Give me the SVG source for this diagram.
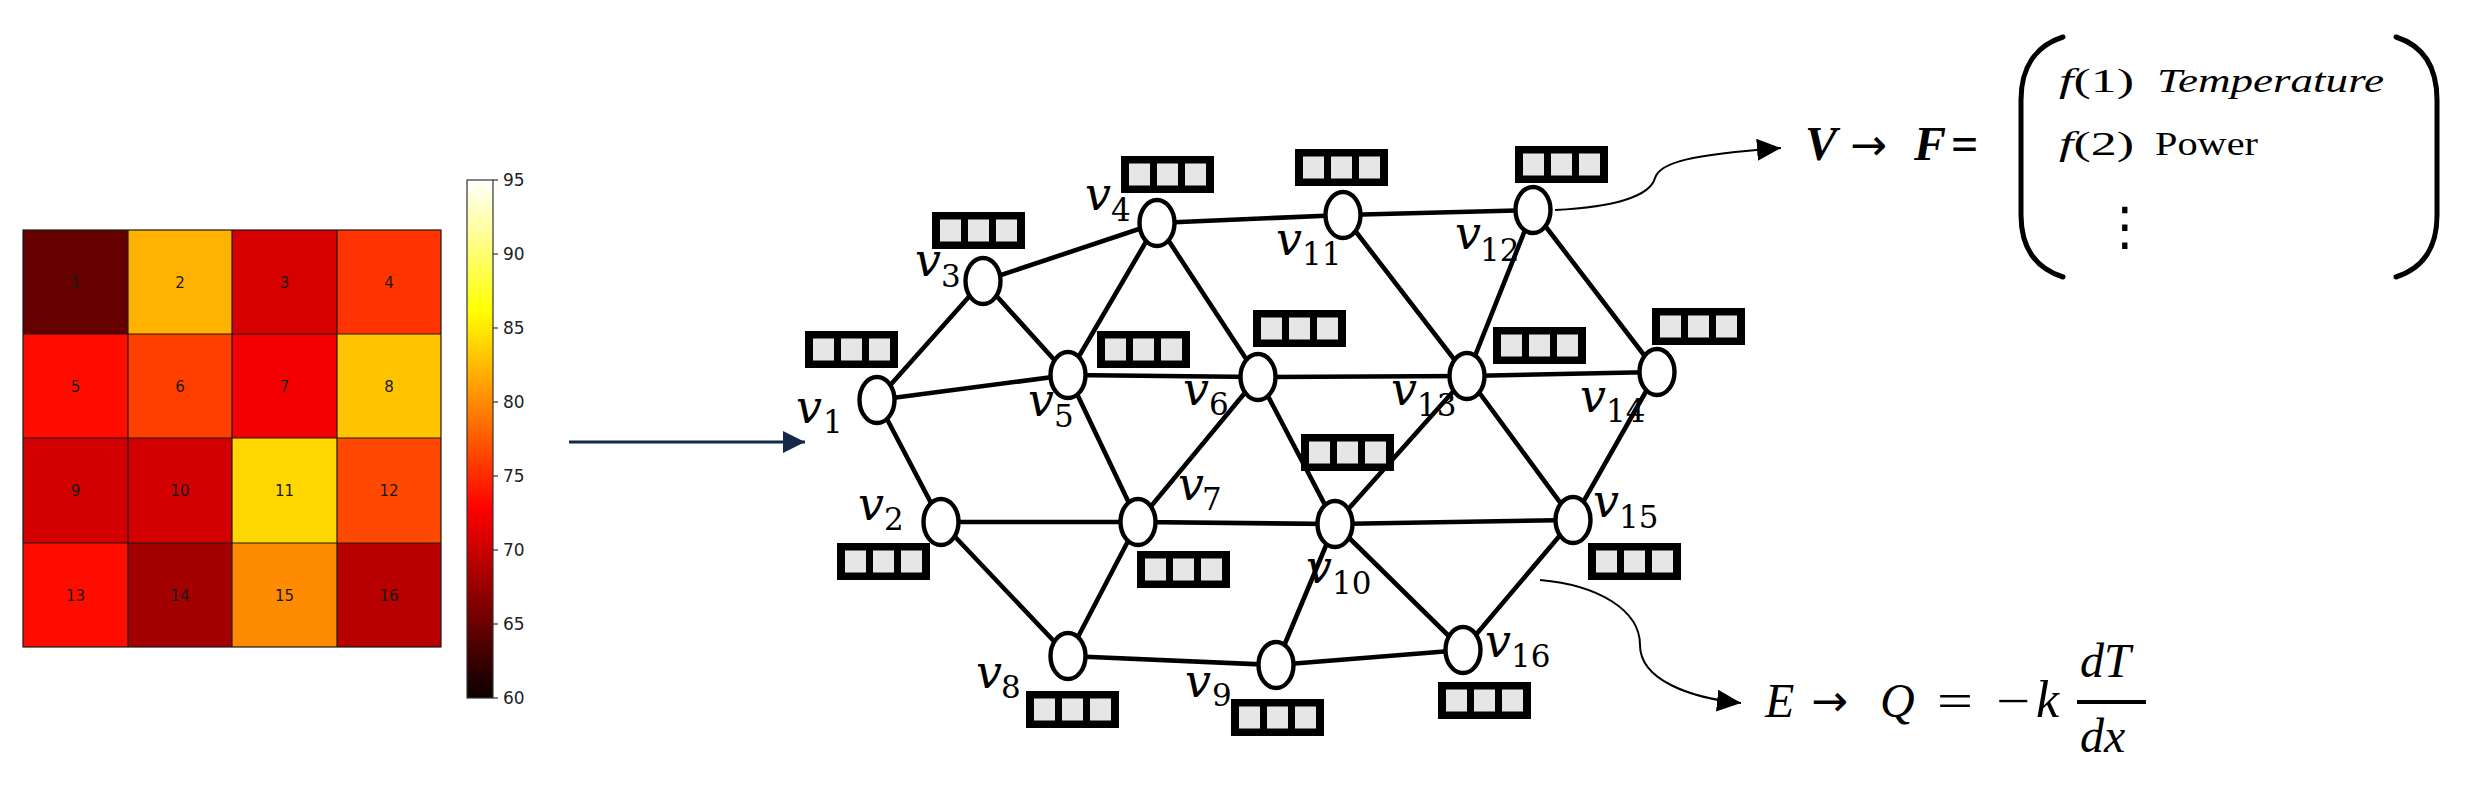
<svg xmlns="http://www.w3.org/2000/svg" xmlns:xlink="http://www.w3.org/1999/xlink" width="2466" height="797" viewBox="0 0 2466 797">
<style>
.cellnum{font-family:"DejaVu Sans",sans-serif;font-size:15px;fill:#1a1a1a;text-anchor:middle}
.cbl{font-family:"DejaVu Sans",sans-serif;font-size:17px;fill:#222}
.edge{stroke:#000;stroke-width:4.6;fill:none;stroke-linecap:round}
.node{fill:#fff;stroke:#000;stroke-width:4.4}
.vl{font-family:"DejaVu Serif",serif;font-style:italic;font-size:46px;fill:#000}
.vs{font-family:"DejaVu Serif",serif;font-style:normal;font-size:31px;fill:#000}
.math{font-family:"Liberation Serif","DejaVu Serif",serif;fill:#000}
.arr{font-family:"DejaVu Sans",sans-serif;font-size:44px;fill:#000}
.it{font-style:italic}
.curve{stroke:#000;stroke-width:2;fill:none}
.paren{stroke:#000;stroke-width:5;fill:none;stroke-linecap:round}
</style>
<defs>
<linearGradient id="hot" x1="0" y1="1" x2="0" y2="0">
<stop offset="0" stop-color="#0a0000"/>
<stop offset="0.365" stop-color="#ff0000"/>
<stop offset="0.746" stop-color="#ffff00"/>
<stop offset="1" stop-color="#ffffff"/>
</linearGradient>
<g id="fb">
<rect width="93" height="37" fill="#000"/>
<rect x="8" y="7.5" width="21" height="22" fill="#e6e6e6"/>
<rect x="36" y="7.5" width="21" height="22" fill="#e6e6e6"/>
<rect x="64" y="7.5" width="21" height="22" fill="#e6e6e6"/>
</g>
<marker id="ah" viewBox="0 0 24 22" refX="24" refY="11" markerWidth="24" markerHeight="22" markerUnits="userSpaceOnUse" orient="auto">
<path d="M0,0 L24,11 L0,22 z" fill="#000"/>
</marker>
<marker id="ahn" viewBox="0 0 22 22" refX="22" refY="11" markerWidth="22" markerHeight="22" markerUnits="userSpaceOnUse" orient="auto">
<path d="M0,0 L22,11 L0,22 z" fill="#14284a"/>
</marker>
</defs>
<rect width="2466" height="797" fill="#fff"/>

<g id="heatmap">
<rect x="23" y="230" width="105" height="104" fill="#650000"/>
<rect x="128" y="230" width="104" height="104" fill="#ffb300"/>
<rect x="232" y="230" width="105" height="104" fill="#d70000"/>
<rect x="337" y="230" width="104" height="104" fill="#ff3400"/>
<rect x="23" y="334" width="105" height="104" fill="#ff0c00"/>
<rect x="128" y="334" width="104" height="104" fill="#ff3f00"/>
<rect x="232" y="334" width="105" height="104" fill="#f50000"/>
<rect x="337" y="334" width="104" height="104" fill="#ffc400"/>
<rect x="23" y="438" width="105" height="105" fill="#d20000"/>
<rect x="128" y="438" width="104" height="105" fill="#d20000"/>
<rect x="232" y="438" width="105" height="105" fill="#ffd700"/>
<rect x="337" y="438" width="104" height="105" fill="#ff4800"/>
<rect x="23" y="543" width="105" height="104" fill="#ff0c00"/>
<rect x="128" y="543" width="104" height="104" fill="#a30000"/>
<rect x="232" y="543" width="105" height="104" fill="#ff8c00"/>
<rect x="337" y="543" width="104" height="104" fill="#b80000"/>
<g stroke="#1a1a1a" stroke-width="1.2" fill="none">
<rect x="23" y="230" width="418" height="417"/>
<line x1="128" y1="230" x2="128" y2="647"/>
<line x1="232" y1="230" x2="232" y2="647"/>
<line x1="337" y1="230" x2="337" y2="647"/>
<line x1="23" y1="334" x2="441" y2="334"/>
<line x1="23" y1="438" x2="441" y2="438"/>
<line x1="23" y1="543" x2="441" y2="543"/>
</g>
<text class="cellnum" x="75.5" y="287.5">1</text>
<text class="cellnum" x="180" y="287.5">2</text>
<text class="cellnum" x="284.5" y="287.5">3</text>
<text class="cellnum" x="389" y="287.5">4</text>
<text class="cellnum" x="75.5" y="391.5">5</text>
<text class="cellnum" x="180" y="391.5">6</text>
<text class="cellnum" x="284.5" y="391.5">7</text>
<text class="cellnum" x="389" y="391.5">8</text>
<text class="cellnum" x="75.5" y="496">9</text>
<text class="cellnum" x="180" y="496">10</text>
<text class="cellnum" x="284.5" y="496">11</text>
<text class="cellnum" x="389" y="496">12</text>
<text class="cellnum" x="75.5" y="600.5">13</text>
<text class="cellnum" x="180" y="600.5">14</text>
<text class="cellnum" x="284.5" y="600.5">15</text>
<text class="cellnum" x="389" y="600.5">16</text>
</g>

<g id="colorbar">
<rect x="467" y="180" width="26" height="518" fill="url(#hot)" stroke="#333" stroke-width="1.2"/>
<g stroke="#333" stroke-width="1.2">
<line x1="493" y1="180" x2="498" y2="180"/>
<line x1="493" y1="254" x2="498" y2="254"/>
<line x1="493" y1="328" x2="498" y2="328"/>
<line x1="493" y1="402" x2="498" y2="402"/>
<line x1="493" y1="476" x2="498" y2="476"/>
<line x1="493" y1="550" x2="498" y2="550"/>
<line x1="493" y1="624" x2="498" y2="624"/>
<line x1="493" y1="698" x2="498" y2="698"/>
</g>
<text class="cbl" x="503" y="186">95</text>
<text class="cbl" x="503" y="260">90</text>
<text class="cbl" x="503" y="334">85</text>
<text class="cbl" x="503" y="408">80</text>
<text class="cbl" x="503" y="482">75</text>
<text class="cbl" x="503" y="556">70</text>
<text class="cbl" x="503" y="630">65</text>
<text class="cbl" x="503" y="704">60</text>
</g>

<g id="connectors">
<line x1="569" y1="442" x2="805" y2="442" stroke="#14284a" stroke-width="3" marker-end="url(#ahn)"/>
<line class="edge" x1="877" y1="400" x2="983" y2="281"/>
<line class="edge" x1="877" y1="400" x2="1068" y2="375"/>
<line class="edge" x1="877" y1="400" x2="941" y2="522"/>
<line class="edge" x1="983" y1="281" x2="1157" y2="223"/>
<line class="edge" x1="983" y1="281" x2="1068" y2="375"/>
<line class="edge" x1="1157" y1="223" x2="1068" y2="375"/>
<line class="edge" x1="1157" y1="223" x2="1258" y2="377"/>
<line class="edge" x1="1157" y1="223" x2="1343" y2="215"/>
<line class="edge" x1="1068" y1="375" x2="1258" y2="377"/>
<line class="edge" x1="1068" y1="375" x2="1138" y2="522"/>
<line class="edge" x1="1258" y1="377" x2="1138" y2="522"/>
<line class="edge" x1="1258" y1="377" x2="1335" y2="524"/>
<line class="edge" x1="1258" y1="377" x2="1467" y2="376"/>
<line class="edge" x1="941" y1="522" x2="1138" y2="522"/>
<line class="edge" x1="941" y1="522" x2="1068" y2="656"/>
<line class="edge" x1="1138" y1="522" x2="1068" y2="656"/>
<line class="edge" x1="1138" y1="522" x2="1335" y2="524"/>
<line class="edge" x1="1068" y1="656" x2="1276" y2="665"/>
<line class="edge" x1="1276" y1="665" x2="1335" y2="524"/>
<line class="edge" x1="1276" y1="665" x2="1463" y2="650"/>
<line class="edge" x1="1335" y1="524" x2="1467" y2="376"/>
<line class="edge" x1="1335" y1="524" x2="1573" y2="520"/>
<line class="edge" x1="1335" y1="524" x2="1463" y2="650"/>
<line class="edge" x1="1343" y1="215" x2="1533" y2="210"/>
<line class="edge" x1="1343" y1="215" x2="1467" y2="376"/>
<line class="edge" x1="1533" y1="210" x2="1467" y2="376"/>
<line class="edge" x1="1533" y1="210" x2="1657" y2="372"/>
<line class="edge" x1="1467" y1="376" x2="1657" y2="372"/>
<line class="edge" x1="1467" y1="376" x2="1573" y2="520"/>
<line class="edge" x1="1657" y1="372" x2="1573" y2="520"/>
<line class="edge" x1="1573" y1="520" x2="1463" y2="650"/>
<path class="curve" d="M1555,210 C1615,207 1650,196 1655,178 C1660,162 1690,155 1781,148" marker-end="url(#ah)"/>
<path class="curve" d="M1540,580 C1598,585 1640,610 1640,645 C1640,680 1690,698 1741,703" marker-end="url(#ah)"/>
</g>

<g id="v1"><ellipse class="node" cx="877" cy="400" rx="17.5" ry="23"/><use xlink:href="#fb" href="#fb" x="805" y="331"/><text><tspan class="vl" x="796" y="423">v</tspan><tspan class="vs" x="823" y="433">1</tspan></text></g>
<g id="v2"><ellipse class="node" cx="941" cy="522" rx="17.5" ry="23"/><use xlink:href="#fb" href="#fb" x="837" y="543"/><text><tspan class="vl" x="858" y="520">v</tspan><tspan class="vs" x="884" y="530">2</tspan></text></g>
<g id="v3"><ellipse class="node" cx="983" cy="281" rx="17.5" ry="23"/><use xlink:href="#fb" href="#fb" x="932" y="212"/><text><tspan class="vl" x="915" y="276">v</tspan><tspan class="vs" x="941" y="287">3</tspan></text></g>
<g id="v4"><ellipse class="node" cx="1157" cy="223" rx="17.5" ry="23"/><use xlink:href="#fb" href="#fb" x="1121" y="156"/><text><tspan class="vl" x="1085" y="210">v</tspan><tspan class="vs" x="1111" y="221">4</tspan></text></g>
<g id="v5"><ellipse class="node" cx="1068" cy="375" rx="17.5" ry="23"/><use xlink:href="#fb" href="#fb" x="1097" y="331"/><text><tspan class="vl" x="1028" y="416">v</tspan><tspan class="vs" x="1054" y="427">5</tspan></text></g>
<g id="v6"><ellipse class="node" cx="1258" cy="377" rx="17.5" ry="23"/><use xlink:href="#fb" href="#fb" x="1253" y="310"/><text><tspan class="vl" x="1183" y="405">v</tspan><tspan class="vs" x="1209" y="415">6</tspan></text></g>
<g id="v7"><ellipse class="node" cx="1138" cy="522" rx="17.5" ry="23"/><use xlink:href="#fb" href="#fb" x="1137" y="551"/><text><tspan class="vl" x="1178" y="500">v</tspan><tspan class="vs" x="1202" y="510">7</tspan></text></g>
<g id="v8"><ellipse class="node" cx="1068" cy="656" rx="17.5" ry="23"/><use xlink:href="#fb" href="#fb" x="1026" y="691"/><text><tspan class="vl" x="976" y="688">v</tspan><tspan class="vs" x="1001" y="698">8</tspan></text></g>
<g id="v9"><ellipse class="node" cx="1276" cy="665" rx="17.5" ry="23"/><use xlink:href="#fb" href="#fb" x="1231" y="699"/><text><tspan class="vl" x="1185" y="697">v</tspan><tspan class="vs" x="1212" y="706">9</tspan></text></g>
<g id="v10"><ellipse class="node" cx="1335" cy="524" rx="17.5" ry="23"/><use xlink:href="#fb" href="#fb" x="1301" y="434"/><text><tspan class="vl" x="1306" y="583">v</tspan><tspan class="vs" x="1332" y="594">10</tspan></text></g>
<g id="v11"><ellipse class="node" cx="1343" cy="215" rx="17.5" ry="23"/><use xlink:href="#fb" href="#fb" x="1295" y="149"/><text><tspan class="vl" x="1276" y="255">v</tspan><tspan class="vs" x="1302" y="265">11</tspan></text></g>
<g id="v12"><ellipse class="node" cx="1533" cy="210" rx="17.5" ry="23"/><use xlink:href="#fb" href="#fb" x="1515" y="146"/><text><tspan class="vl" x="1455" y="249">v</tspan><tspan class="vs" x="1480" y="261">12</tspan></text></g>
<g id="v13"><ellipse class="node" cx="1467" cy="376" rx="17.5" ry="23"/><use xlink:href="#fb" href="#fb" x="1493" y="327"/><text><tspan class="vl" x="1391" y="405">v</tspan><tspan class="vs" x="1417" y="416">13</tspan></text></g>
<g id="v14"><ellipse class="node" cx="1657" cy="372" rx="17.5" ry="23"/><use xlink:href="#fb" href="#fb" x="1652" y="308"/><text><tspan class="vl" x="1580" y="412">v</tspan><tspan class="vs" x="1606" y="422">14</tspan></text></g>
<g id="v15"><ellipse class="node" cx="1573" cy="520" rx="17.5" ry="23"/><use xlink:href="#fb" href="#fb" x="1588" y="543"/><text><tspan class="vl" x="1593" y="517">v</tspan><tspan class="vs" x="1619" y="528">15</tspan></text></g>
<g id="v16"><ellipse class="node" cx="1463" cy="650" rx="17.5" ry="23"/><use xlink:href="#fb" href="#fb" x="1438" y="682"/><text><tspan class="vl" x="1485" y="657">v</tspan><tspan class="vs" x="1511" y="667">16</tspan></text></g>

<g id="vertex-features">
<text class="math it" font-size="48" font-weight="bold" x="1805" y="160">V</text>
<text class="arr" x="1850" y="160">→</text>
<text class="math it" font-size="48" font-weight="bold" x="1914" y="160">F</text>
<text class="math" font-size="48" font-weight="bold" x="1951" y="160">=</text>
<path class="paren" d="M2063,37 C2035,46 2021,68 2021,100 L2021,215 C2021,247 2035,268 2063,277"/>
<path class="paren" d="M2396,37 C2424,46 2437,68 2437,100 L2437,215 C2437,247 2424,268 2396,277"/>
<text class="math" font-size="34" x="2059" y="92" textLength="75" lengthAdjust="spacingAndGlyphs"><tspan font-style="italic">f</tspan>(1)</text>
<text class="math it" font-size="34" x="2157" y="92" textLength="227" lengthAdjust="spacingAndGlyphs">Temperature</text>
<text class="math" font-size="34" x="2059" y="155" textLength="75" lengthAdjust="spacingAndGlyphs"><tspan font-style="italic">f</tspan>(2)</text>
<text class="math" font-size="34" x="2155" y="155" textLength="103" lengthAdjust="spacingAndGlyphs">Power</text>
<text x="2125" y="244" font-family="DejaVu Sans,sans-serif" font-size="52" text-anchor="middle" fill="#000">⋮</text>
</g>

<g id="edge-flux">
<text class="math it" font-size="48" x="1765" y="717">E</text>
<text class="arr" x="1811" y="716">→</text>
<text class="math it" font-size="48" x="1880" y="717">Q</text>
<text class="math" font-size="48" x="1937" y="717" textLength="36" lengthAdjust="spacingAndGlyphs">=</text>
<text class="math" font-size="48" x="1996" y="717" textLength="34" lengthAdjust="spacingAndGlyphs">−</text>
<text class="math it" font-size="52" x="2036" y="717">k</text>
<text class="math it" font-size="48" x="2080" y="677">dT</text>
<rect x="2077" y="700" width="69" height="4" fill="#000"/>
<text class="math it" font-size="48" x="2080" y="752">dx</text>
</g>
</svg>
